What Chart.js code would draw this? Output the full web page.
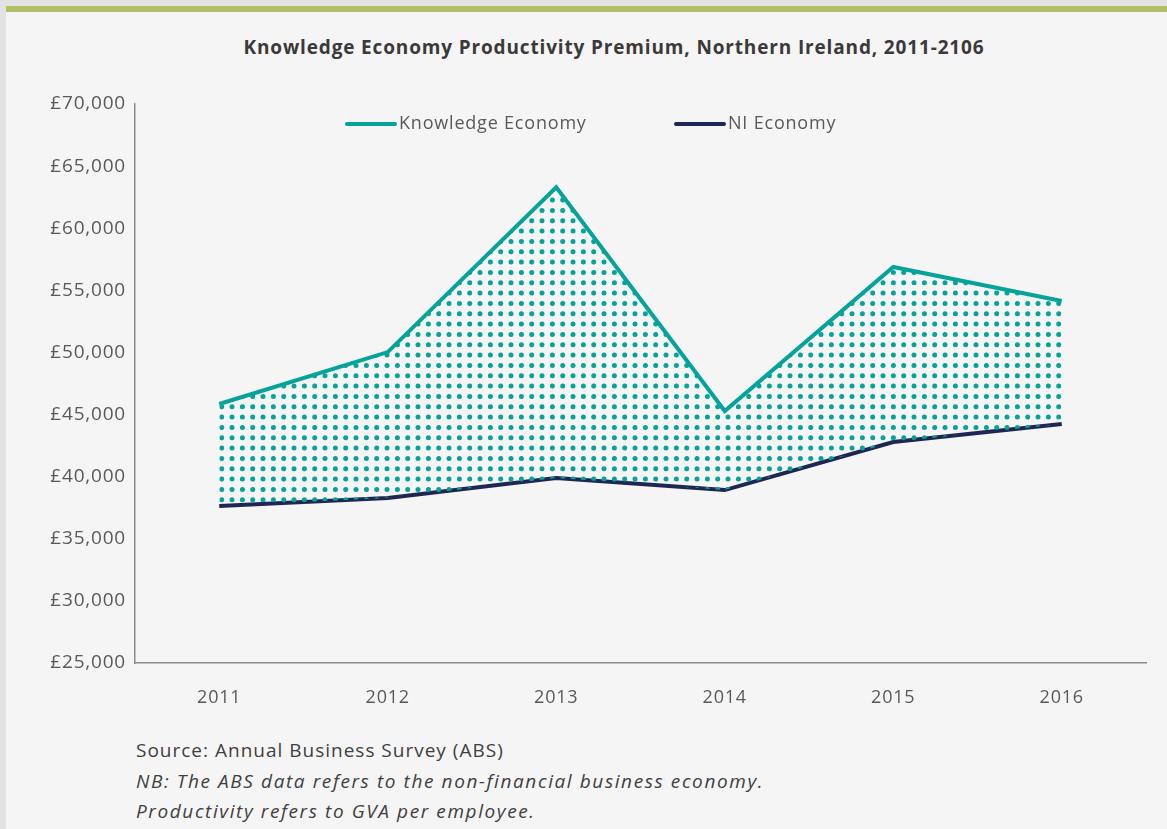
<!DOCTYPE html>
<html>
<head>
<meta charset="utf-8">
<script src="https://cdn.jsdelivr.net/npm/chart.js@4/dist/chart.umd.min.js"></script>
<style>
    html, body { margin: 0; padding: 0; }
    body { width: 1167px; height: 829px; background: #e3e3e3; overflow: hidden; position: relative; font-family: "Open Sans", sans-serif; }
    #panel { position: absolute; left: 6px; top: 6px; width: 1161px; height: 823px; background: #f5f5f5; border-top: 6px solid #b4be64; box-sizing: border-box; }
    #title { position: absolute; left: 0; top: 35px; width: 1228px; text-align: center; font-weight: bold; font-size: 19px; letter-spacing: 0.85px; line-height: 24px; color: #3a3a3a; }
    #wrap { position: absolute; left: 6px; top: 80px; width: 1161px; height: 640px; }
    #notes { position: absolute; left: 136px; top: 735px; font-size: 19px; line-height: 30.5px; color: #404040; }
    #notes div { letter-spacing: 1px; }
    #notes i { display: block; letter-spacing: 1.6px; }
</style>
</head>
<body>
<div id="panel"></div>
<div id="title">Knowledge Economy Productivity Premium, Northern Ireland, 2011-2106</div>
<div id="wrap"><canvas id="chart"></canvas></div>
<div id="notes">
    <div>Source: Annual Business Survey (ABS)</div>
    <i>NB: The ABS data refers to the non-financial business economy.</i>
    <i>Productivity refers to GVA per employee.</i>
</div>
<script>
// Данные графика
const years = ['2011', '2012', '2013', '2014', '2015', '2016'];
const knowledgeEconomy = [45850, 50030, 63300, 45280, 56880, 54140];
const niEconomy = [37630, 38280, 39890, 38920, 42790, 44235];
const seriesNames = ['Knowledge Economy', 'NI Economy'];

const teal = '#06a39a';
const navy = '#1e2753';

// Точечная заливка между линиями
function dotPattern(color) {
    const c = document.createElement('canvas');
    c.width = 31; c.height = 31;
    const g = c.getContext('2d');
    g.fillStyle = color;
    const xs = [9.0, 19.4, 29.7, -1.3];
    const ys = [6.4, 16.7, 27.0];
    xs.forEach(x => ys.forEach(y => {
        g.beginPath();
        g.arc(x, y, 2.5, 0, Math.PI * 2);
        g.fill();
    }));
    return g.createPattern(c, 'repeat');
}

// Разрядка текста на канвасе (шрифт в оригинале шире)
const spacing = {
    id: 'spacing',
    beforeDraw(chart) { chart.ctx.letterSpacing = '0.8px'; }
};

// Легенда внутри области графика
const lineLegend = {
    id: 'lineLegend',
    afterDraw(chart) {
        const ctx = chart.ctx;
        const area = chart.chartArea;
        const starts = [212, 541];
        const y = area.top + 20;
        ctx.save();
        ctx.font = '18px "Open Sans"';
        ctx.letterSpacing = '0.8px';
        ctx.textBaseline = 'middle';
        ctx.fillStyle = '#595959';
        chart.data.datasets.forEach((ds, i) => {
            const x = area.left + starts[i];
            ctx.strokeStyle = ds.borderColor;
            ctx.lineWidth = 4;
            ctx.lineCap = 'round';
            ctx.beginPath();
            ctx.moveTo(x, y);
            ctx.lineTo(x + 48, y);
            ctx.stroke();
            ctx.fillText(ds.label, x + 52, y);
        });
        ctx.restore();
    }
};

new Chart(document.getElementById('chart').getContext('2d'), {
    type: 'line',
    data: {
        labels: years,
        datasets: [{
            label: seriesNames[0],
            data: knowledgeEconomy,
            borderColor: teal,
            backgroundColor: dotPattern(teal),
            borderWidth: 4,
            pointRadius: 0,
            tension: 0,
            fill: '+1'
        }, {
            label: seriesNames[1],
            data: niEconomy,
            borderColor: navy,
            backgroundColor: navy,
            borderWidth: 4,
            pointRadius: 0,
            tension: 0,
            fill: false
        }]
    },
    options: {
        responsive: true,
        maintainAspectRatio: false,
        animation: false,
        layout: { padding: { top: 24, right: 21, bottom: 0, left: 0 } },
        scales: {
            x: {
                offset: true,
                grid: { display: false, drawTicks: false },
                border: { display: true, color: '#8c8c8c', width: 1.5 },
                ticks: { color: '#595959', font: { family: 'Open Sans', size: 18 }, padding: 24, maxRotation: 0 },
                afterFit(scale) { scale.height = 57; }
            },
            y: {
                min: 25000,
                max: 70000,
                grid: { display: false, drawTicks: false },
                border: { display: true, color: '#8c8c8c', width: 1.5 },
                ticks: {
                    stepSize: 5000,
                    padding: 9,
                    color: '#595959',
                    font: { family: 'Open Sans', size: 19 },
                    callback: v => '£' + v.toLocaleString('en-GB')
                },
                afterFit(scale) { scale.width = 129; }
            }
        },
        plugins: {
            legend: { display: false },
            tooltip: { enabled: false }
        }
    },
    plugins: [spacing, lineLegend]
});
</script>
</body>
</html>
